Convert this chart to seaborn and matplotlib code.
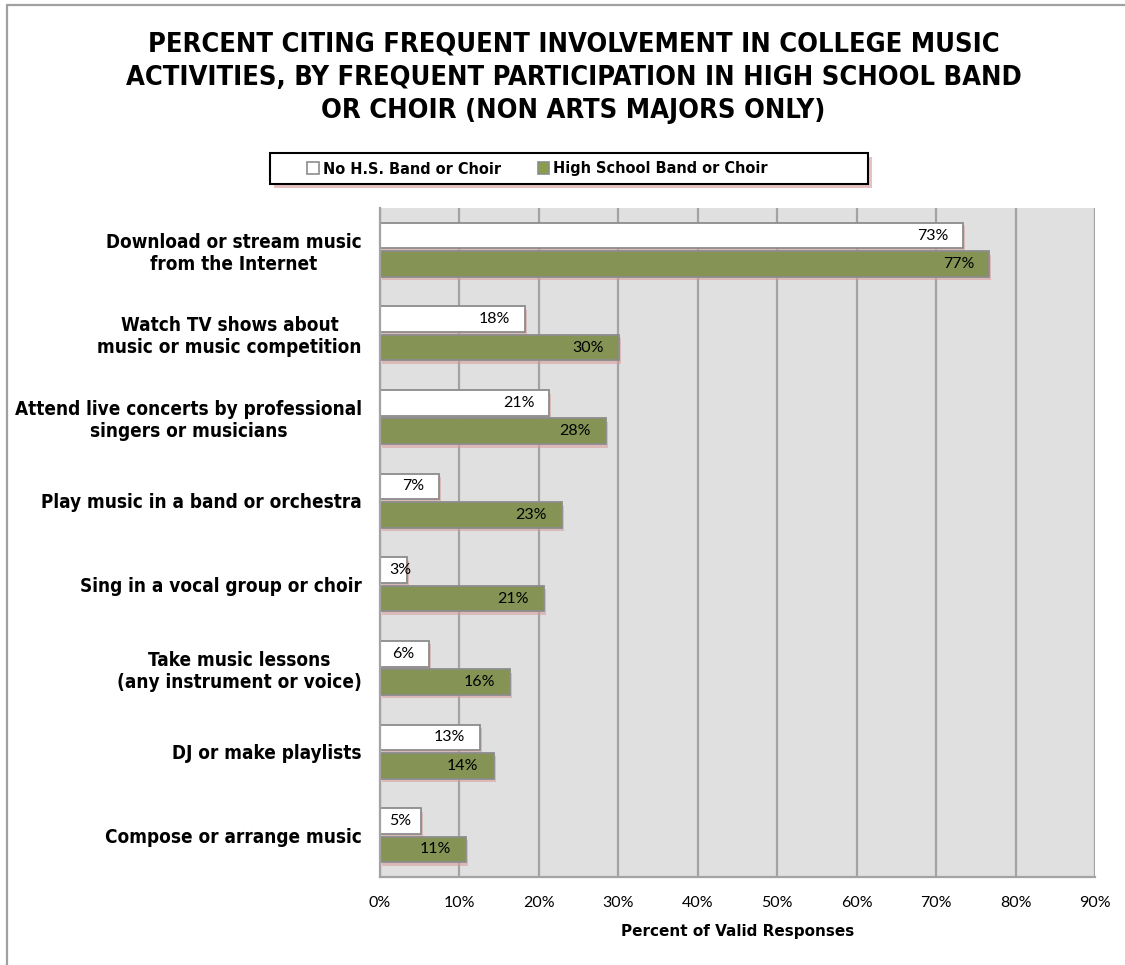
import numpy as np
import pandas as pd
import matplotlib
matplotlib.use("Agg")
import matplotlib.pyplot as plt
import matplotlib.patheffects as pe
from matplotlib.patches import Patch, Rectangle
from matplotlib.lines import Line2D
import seaborn as sns

activities = [
    "Download or stream music\nfrom the Internet",
    "Watch TV shows about\nmusic or music competition",
    "Attend live concerts by professional\nsingers or musicians",
    "Play music in a band or orchestra",
    "Sing in a vocal group or choir",
    "Take music lessons\n(any instrument or voice)",
    "DJ or make playlists",
    "Compose or arrange music",
]
groups = ["No H.S. Band or Choir", "High School Band or Choir"]
no_band_choir = [73.4, 18.3, 21.3, 7.4, 3.4, 6.2, 12.6, 5.2]
band_choir = [76.7, 30.1, 28.4, 22.9, 20.6, 16.4, 14.3, 10.8]
x_ticks = [0, 10, 20, 30, 40, 50, 60, 70, 80, 90]

df = pd.DataFrame({
    "activity": activities * 2,
    "group": [groups[0]] * len(activities) + [groups[1]] * len(activities),
    "pct": no_band_choir + band_choir,
})

sns.set_style("white")
plt.rcParams["font.family"] = ["DejaVu Sans"]
plt.rcParams["text.color"] = "black"
plt.rcParams["axes.labelcolor"] = "black"

W, H = 1125, 965
DPI = 100
PX = 72 / DPI  # points per pixel

fig = plt.figure(figsize=(W / DPI, H / DPI), dpi=DPI)
ax = fig.add_axes([380 / W, 1 - 877 / H, (1095 - 380) / W, (877 - 208) / H])

colors = {groups[0]: "#ffffff", groups[1]: "#8a9e4a"}
edge = "#8c8c8c"
grid_col = "#a3a3a3"
bold_font = dict(fontweight="bold", fontstretch="condensed", color="black")

ax.set_facecolor("#e0e0e0")
ax.set_axisbelow(True)
ax.xaxis.grid(True, color=grid_col, linewidth=1.6)

sns.barplot(data=df, y="activity", x="pct", hue="group", hue_order=groups,
            order=activities, orient="h", palette=colors, width=0.68, gap=0.1,
            edgecolor=edge, linewidth=1.3, legend=False, ax=ax)

ax.set_xlim(0, 90)
ax.set_ylim(7.5, -0.5)

shadow = [pe.SimplePatchShadow(offset=(1.5, -2.5), shadow_rgbFace="#d99a9a", alpha=0.55),
          pe.Normal()]
px_per_unit = (1095 - 380) / 90
for cont in ax.containers:
    for bar, v in zip(cont, cont.datavalues):
        bar.set_path_effects(shadow)
        label = f"{v:.0f}%"
        yc = bar.get_y() + bar.get_height() / 2
        est_w = 10.3 * len(label)
        if v * px_per_unit - 15 - est_w >= 10:
            ax.annotate(label, xy=(v, yc), xytext=(-15 * PX, 0), textcoords="offset points",
                        ha="right", va="center", fontsize=11.5, family="Lato", color="black")
        else:
            ax.annotate(label, xy=(0, yc), xytext=(9 * PX, 0), textcoords="offset points",
                        ha="left", va="center", fontsize=11.5, family="Lato", color="black")

ax.set_xticks(x_ticks)
ax.set_xticklabels([f"{t}%" for t in x_ticks], family="Lato", fontsize=11.5)
ax.tick_params(axis="x", direction="out", length=6, width=1.3, color=grid_col,
               labelcolor="black", pad=8)

ax.set_yticks(range(len(activities)))
ax.set_yticklabels(activities, fontsize=13.6, **bold_font)
for t in ax.get_yticklabels():
    t.set_multialignment("center")
ax.tick_params(axis="y", which="major", length=0, pad=13)
ax.set_yticks(np.arange(-0.5, len(activities), 1), minor=True)
ax.tick_params(axis="y", which="minor", direction="out", length=6, width=1.3, color=grid_col)

for s in ["top", "right"]:
    ax.spines[s].set_visible(False)
for s in ["left", "bottom"]:
    ax.spines[s].set_color(grid_col)
    ax.spines[s].set_linewidth(1.6)

ax.set_ylabel("")
ax.set_xlabel("Percent of Valid Responses", fontsize=11, fontweight="bold",
              color="black", labelpad=10)

fig.text(573.5 / W, 1 - 78 / H,
         "PERCENT CITING FREQUENT INVOLVEMENT IN COLLEGE MUSIC\n"
         "ACTIVITIES, BY FREQUENT PARTICIPATION IN HIGH SCHOOL BAND\n"
         "OR CHOIR (NON ARTS MAJORS ONLY)",
         ha="center", va="center", fontsize=19.5, linespacing=1.36, **bold_font)

# legend frame with a soft red drop shadow
frame = Rectangle((270 / W, 1 - 184 / H), (868 - 270) / W, (184 - 153) / H,
                  transform=fig.transFigure, facecolor="white", edgecolor="black",
                  linewidth=1.5, zorder=2)
frame.set_path_effects([pe.SimplePatchShadow(offset=(3, -3), shadow_rgbFace="#d99a9a",
                                             alpha=0.6), pe.Normal()])
fig.add_artist(frame)

handles = [Patch(facecolor=colors[g], edgecolor=edge, linewidth=1.2) for g in groups]
leg = fig.legend(handles, groups, loc="center left", bbox_to_anchor=(296 / W, 1 - 169 / H),
                 ncol=2, frameon=False, prop={"weight": "bold", "size": 11.6,
                                              "stretch": "condensed"},
                 handlelength=0.7, handleheight=0.7, handletextpad=0.25,
                 columnspacing=2.3, borderpad=0.2)
leg.set_zorder(3)

# outer frame of the figure
fig.add_artist(Line2D([7 / W, 1], [1 - 5 / H, 1 - 5 / H], transform=fig.transFigure,
                      color="#a0a0a0", linewidth=1.6))
fig.add_artist(Line2D([7 / W, 7 / W], [0, 1 - 5 / H], transform=fig.transFigure,
                      color="#a0a0a0", linewidth=1.6))

fig.savefig("out.png", dpi=DPI)
